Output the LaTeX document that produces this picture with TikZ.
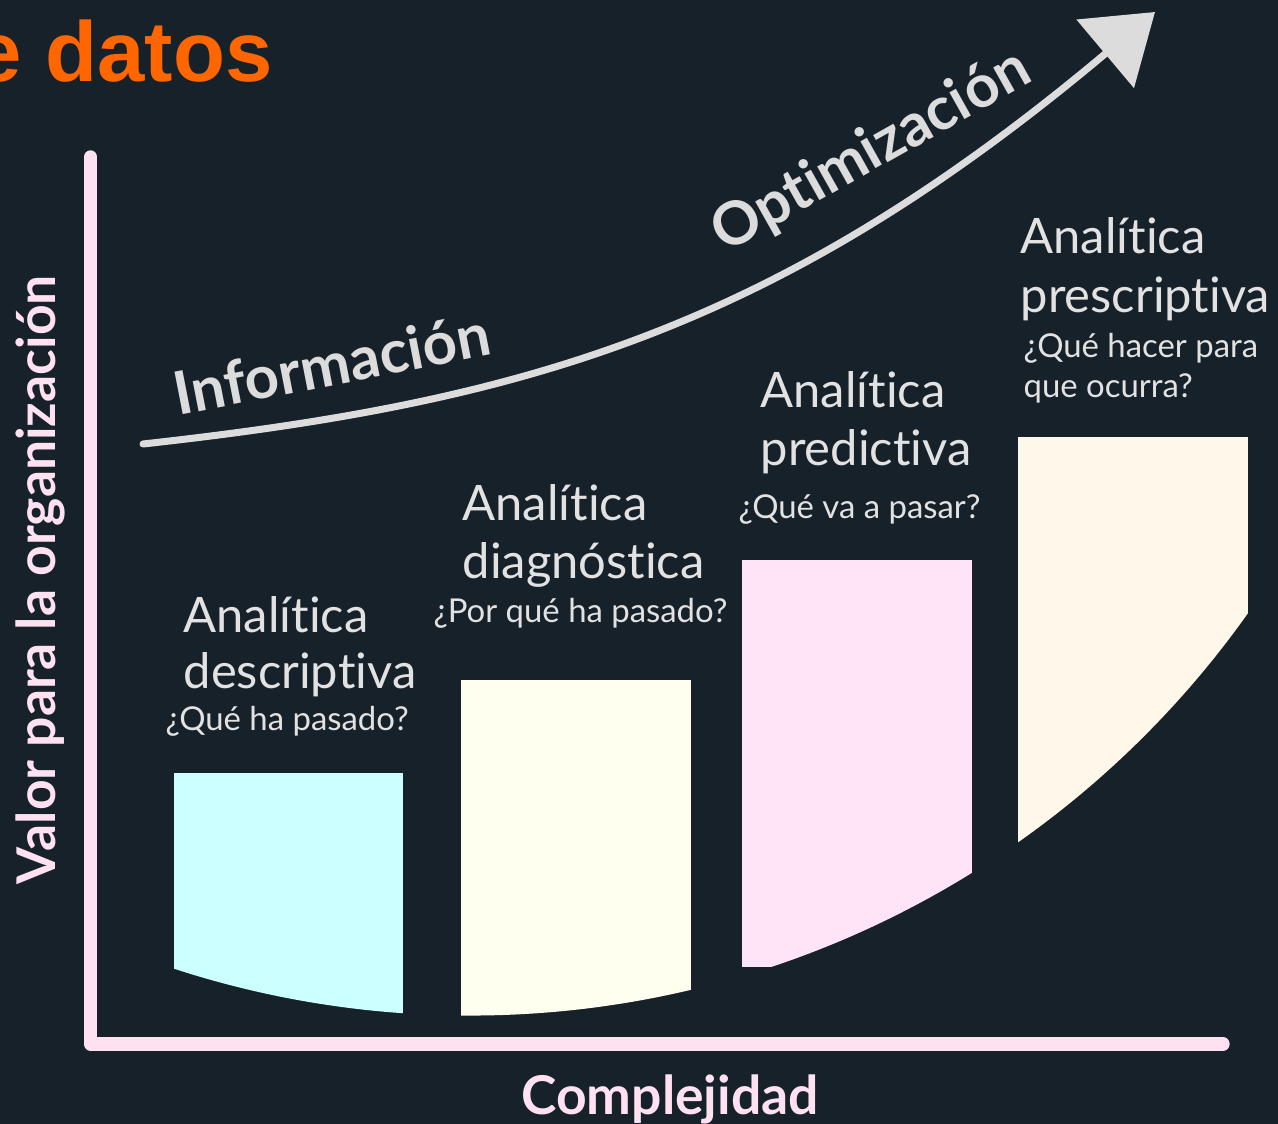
\documentclass[tikz,border=0pt]{standalone}
\usepackage{fontspec}
\setmainfont{Lato}[Ligatures=NoCommon]
\newfontfamily\titlefont{Liberation Sans}
\usetikzlibrary{arrows.meta}
\definecolor{bg}{HTML}{17212A}
\definecolor{axispink}{HTML}{FFE1F1}
\definecolor{curvegrey}{HTML}{DCDCDC}
\definecolor{lblgrey}{HTML}{E2E2E2}
\definecolor{titleorange}{HTML}{FF6600}
\definecolor{boxa}{HTML}{CCFFFF}
\definecolor{boxb}{HTML}{FFFFF0}
\definecolor{boxc}{HTML}{FFE3F6}
\definecolor{boxd}{HTML}{FFF8EA}
\tikzset{
  bigl/.style={font=\fontsize{13.9}{16}\selectfont, text=lblgrey, inner sep=0pt, anchor=base west},
  smalll/.style={font=\fontsize{9.35}{11}\selectfont, text=lblgrey, inner sep=0pt, anchor=base west},
  headl/.style={font=\bfseries\fontsize{17}{20}\selectfont, text=curvegrey, inner sep=0pt, anchor=base},
  axisl/.style={font=\bfseries\fontsize{15.2}{18}\selectfont, text=axispink, inner sep=0pt, anchor=base},
  axisline/.style={draw=axispink, line width=3.8pt, line cap=round, line join=round},
  growcurve/.style={draw=curvegrey, line width=2pt, line cap=round, -{Triangle[length=18.5pt,width=25pt]}}
}
\begin{document}
\begin{tikzpicture}[x=0.01cm,y=-0.01cm]
\path[use as bounding box, fill=bg] (0,0) rectangle (1278,1124);
% title
\node[font=\titlefont\bfseries\fontsize{24.2}{28}\selectfont, text=titleorange, inner sep=0pt, anchor=base west] (title) at (-26,81) {e datos};
% bars
\begin{scope}
  \clip (470,62.5) circle[radius=9.525cm];
  \fill[boxa] (174,773) rectangle (403,1030);
  \fill[boxb] (461,680) rectangle (691,1030);
  \fill[boxc] (742,560) rectangle (972,967);
  \fill[boxd] (1018,437) rectangle (1248,1030);
\end{scope}
% axes
\coordinate (ytop) at (90.5,157);
\coordinate (origin) at (90.5,1044);
\coordinate (xend) at (1223,1044);
\path[axisline] (ytop) -- (origin) -- (xend);
% growth curve
\coordinate (cstart) at (143,444);
\coordinate (ctip) at (1155,12);
\path[growcurve] (cstart) .. controls (523,402) and (775,331) .. (ctip);
\node[headl, rotate=11] (info) at (336,385) {Información};
\node[headl, rotate=29.3] (opt) at (880,167) {Optimización};
% axis labels
\node[axisl, rotate=90] (ylab) at (55,580) {Valor para la organización};
\node[axisl] (xlab) at (670,1114) {Complejidad};
% labels
\node[bigl] (a1) at (183,632) {Analítica};
\node[bigl] (a1b) at (183,688) {descriptiva};
\node[smalll] (q1) at (165,730) {¿Qué ha pasado?};
\node[bigl] (a2) at (462,520) {Analítica};
\node[bigl] (a2b) at (462,578) {diagnóstica};
\node[smalll] (q2) at (433,622) {¿Por qué ha pasado?};
\node[bigl] (a3) at (760,407) {Analítica};
\node[bigl] (a3b) at (760,465) {predictiva};
\node[smalll] (q3) at (738,518) {¿Qué va a pasar?};
\node[bigl] (a4) at (1020,253) {Analítica};
\node[bigl] (a4b) at (1020,312) {prescriptiva};
\node[smalll] (q4) at (1023,357) {¿Qué hacer para};
\node[smalll] (q4b) at (1023,397) {que ocurra?};
\end{tikzpicture}
\end{document}
